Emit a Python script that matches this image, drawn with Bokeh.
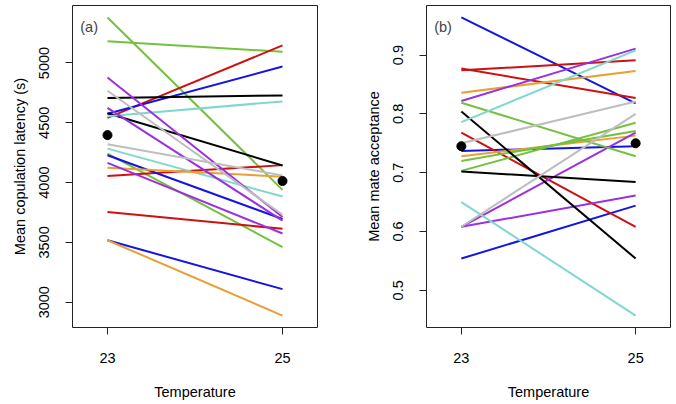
from bokeh.plotting import figure
from bokeh.layouts import row
from bokeh.models import Range1d, FixedTicker, Label, ColumnDataSource
from bokeh.embed import file_html
from bokeh.resources import INLINE

# ---------------- data ----------------
temps = [23, 25]

# panel (a): mean copulation latency (s) at 23 and 25
lat_23 = [5381, 5182, 4243, 4541, 4055, 3754, 4575, 4229, 3518, 4707,
          4580, 4555, 4284, 4124, 3518, 4878, 4624, 4165, 4768, 4320]
lat_25 = [3939, 5094, 3460, 5147, 4146, 3613, 4970, 3695, 3109, 4729,
          4143, 4679, 3883, 4049, 2888, 3712, 3682, 3574, 3731, 4060]
lat_groups = ["green", "green", "green", "red", "red", "red", "blue", "blue", "blue", "black",
              "black", "cyan", "cyan", "orange", "orange", "purple", "purple", "purple", "gray", "gray"]
lat_mean = [4397, 4013]

# panel (b): mean mate acceptance at 23 and 25
acc_23 = [0.964, 0.737, 0.554, 0.877, 0.874, 0.768, 0.836, 0.728, 0.822, 0.608,
          0.608, 0.819, 0.720, 0.703, 0.804, 0.702, 0.786, 0.650, 0.750, 0.608]
acc_25 = [0.818, 0.745, 0.644, 0.827, 0.891, 0.608, 0.873, 0.763, 0.911, 0.661,
          0.768, 0.728, 0.771, 0.785, 0.554, 0.684, 0.908, 0.457, 0.821, 0.800]
acc_groups = ["blue", "blue", "blue", "red", "red", "red", "orange", "orange", "purple", "purple",
              "purple", "green", "green", "green", "black", "black", "cyan", "cyan", "gray", "gray"]
acc_mean = [0.745, 0.750]

lat_ticks = [3000, 3500, 4000, 4500, 5000]
acc_ticks = [0.5, 0.6, 0.7, 0.8, 0.9]

palette = {
    "green": "#74C13F",
    "red": "#CD1010",
    "blue": "#1515E0",
    "black": "#000000",
    "cyan": "#80D8CC",
    "orange": "#E8A035",
    "purple": "#9A30E0",
    "gray": "#BEBEBE",
}

FONT = "Liberation Sans"
FS = "14.5px"
H = 402


def make_panel(v23, v25, groups, means, ticks, ylabel, tag, width, left, right):
    lo = min(min(v23), min(v25))
    hi = max(max(v23), max(v25))
    pad = 0.04 * (hi - lo)
    p = figure(width=width, height=H, output_backend="svg", toolbar_location=None,
               x_range=Range1d(22.6, 25.4), y_range=Range1d(lo - pad, hi + pad),
               min_border_left=left, min_border_right=right, min_border_top=5,
               min_border_bottom=H - 328)
    p.title.visible = False
    p.grid.visible = False
    p.outline_line_color = "#222222"
    p.outline_line_width = 1
    p.background_fill_color = "white"
    p.border_fill_color = "white"

    src = ColumnDataSource(dict(
        xs=[list(temps) for _ in v23],
        ys=[[a, b] for a, b in zip(v23, v25)],
        color=[palette[g] for g in groups],
    ))
    p.multi_line(xs="xs", ys="ys", line_color="color", line_width=2, source=src)
    p.scatter(x=temps, y=means, size=9, color="black")

    p.xaxis.ticker = FixedTicker(ticks=temps)
    p.yaxis.ticker = FixedTicker(ticks=ticks)
    p.yaxis.major_label_orientation = "vertical"
    for ax in (p.xaxis[0], p.yaxis[0]):
        ax.axis_line_color = None
        ax.major_tick_in = 0
        ax.major_tick_out = 7
        ax.major_tick_line_color = "#222222"
        ax.minor_tick_line_color = None
        ax.major_label_text_font = FONT
        ax.major_label_text_font_size = FS
        ax.major_label_text_color = "black"
        ax.axis_label_text_font = FONT
        ax.axis_label_text_font_size = FS
        ax.axis_label_text_font_style = "normal"
        ax.axis_label_text_color = "black"
    p.xaxis.axis_label = "Temperature"
    p.yaxis.axis_label = ylabel
    p.xaxis.major_label_standoff = 18
    p.yaxis.major_label_standoff = 16
    p.xaxis.axis_label_standoff = 18
    p.yaxis.axis_label_standoff = 9

    span = hi + pad - (lo - pad)
    p.add_layout(Label(x=22.79, y=hi + pad - 0.066 * span, text=tag,
                       text_font=FONT, text_font_size=FS,
                       text_align="center", text_baseline="middle"))
    return p


pa = make_panel(lat_23, lat_25, lat_groups, lat_mean, lat_ticks,
                "Mean copulation latency (s)", "(a)", 360, 72, 43)
pb = make_panel(acc_23, acc_25, acc_groups, acc_mean, acc_ticks,
                "Mean mate acceptance", "(b)", 314, 66, 4)

layout = row(pa, pb)
open("out.html", "w").write(file_html(layout, INLINE))
